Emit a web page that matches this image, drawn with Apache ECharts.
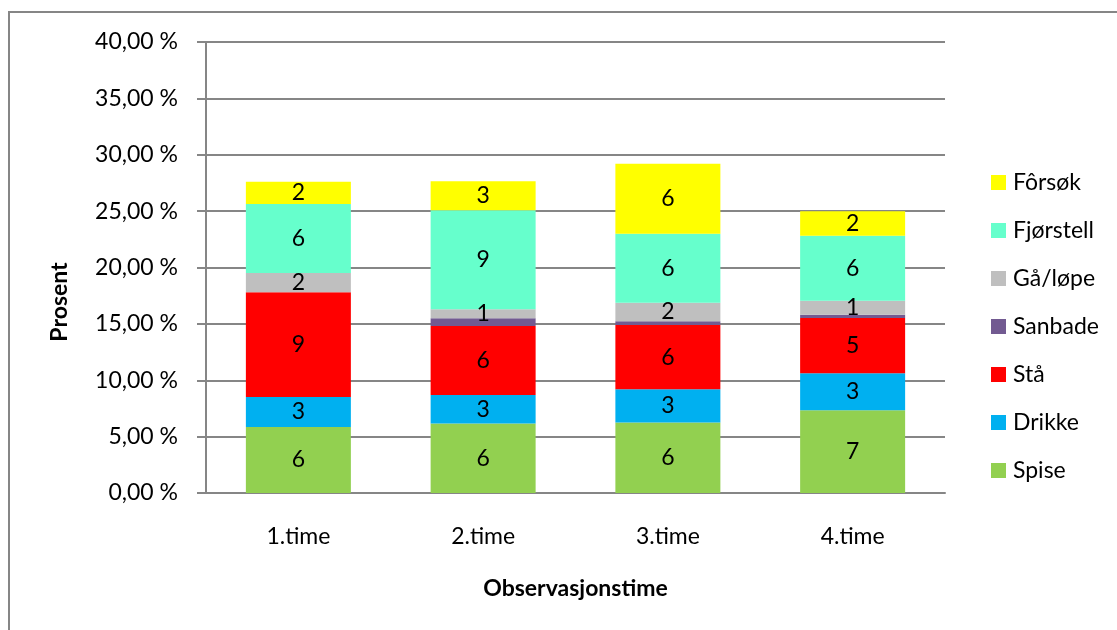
<!DOCTYPE html>
<html>
<head>
<meta charset="utf-8">
<script src="https://cdn.jsdelivr.net/npm/echarts@6/dist/echarts.min.js"></script>
<style>
html,body{margin:0;padding:0;background:#fff;}
#chart{width:1117px;height:630px;}
</style>
</head>
<body>
<div id="chart"></div>
<script>
var categories = ['1.time', '2.time', '3.time', '4.time'];
var spise     = [5.86, 6.16, 6.25, 7.34];
var drikke    = [2.66, 2.54, 2.95, 3.28];
var staa      = [9.29, 6.12, 5.71, 4.91];
var sanbade   = [0.00, 0.68, 0.33, 0.27];
var gaaLoepe  = [1.71, 0.80, 1.63, 1.24];
var fjoerstell= [6.12, 8.78, 6.12, 5.77];
var foersoek  = [1.96, 2.58, 6.21, 2.19];
var yTicks = [0, 5, 10, 15, 20, 25, 30, 35, 40];

var FONT = 'Lato';
var FS = 23;
var seriesDefs = [
  {name: 'Spise', data: spise, color: '#92D050', label: true},
  {name: 'Drikke', data: drikke, color: '#00B0F0', label: true},
  {name: 'Stå', data: staa, color: '#FF0000', label: true},
  {name: 'Sanbade', data: sanbade, color: '#725A91', label: false},
  {name: 'Gå/løpe', data: gaaLoepe, color: '#BFBFBF', label: true},
  {name: 'Fjørstell', data: fjoerstell, color: '#66FFCC', label: true},
  {name: 'Fôrsøk', data: foersoek, color: '#FFFF00', label: true}
];

var chart = echarts.init(document.getElementById('chart'), null, {renderer: 'canvas'});
var option = {
  backgroundColor: '#fff',
  animation: false,
  grid: {left: 206, right: 172, top: 42, bottom: 137, containLabel: false},
  legend: {
    orient: 'vertical',
    left: 986, top: 166,
    itemWidth: 15, itemHeight: 15, itemGap: 25,
    icon: 'rect',
    data: seriesDefs.map(function(s){return s.name;}).reverse(),
    textStyle: {fontFamily: FONT, fontSize: FS, color: '#000', padding: [0,0,0,2]}
  },
  xAxis: {
    type: 'category',
    data: categories,
    name: 'Observasjonstime',
    nameLocation: 'middle',
    nameGap: 84,
    nameTextStyle: {fontFamily: FONT, fontSize: FS, fontWeight: 'bold', color: '#000'},
    axisLine: {show: true, lineStyle: {color: '#868686', width: 2}},
    axisTick: {show: false},
    axisLabel: {fontFamily: FONT, fontSize: FS, color: '#000', margin: 32}
  },
  yAxis: {
    type: 'value',
    min: yTicks[0], max: yTicks[yTicks.length-1], interval: 5,
    axisLine: {show: true, lineStyle: {color: '#868686', width: 2}},
    axisTick: {show: true, length: 9, lineStyle: {color: '#868686', width: 2}},
    splitLine: {show: true, lineStyle: {color: '#868686', width: 2}},
    axisLabel: {
      fontFamily: FONT, fontSize: FS, color: '#000', margin: 28,
      formatter: function(v){ return v.toFixed(2).replace('.', ',') + ' %'; }
    }
  },
  graphic: [
    {type: 'rect', silent: true, z: -1,
     shape: {x: 9, y: 12, width: 1300, height: 800},
     style: {fill: 'none', stroke: '#868686', lineWidth: 2}},
    {type: 'text', silent: true,
     x: 60, y: 302, rotation: Math.PI/2,
     style: {text: 'Prosent', fontFamily: FONT, fontSize: FS, fontWeight: 'bold', fill: '#000',
             align: 'center', verticalAlign: 'middle'}}
  ],
  series: seriesDefs.map(function(s){
    return {
      name: s.name, type: 'bar', stack: 'total',
      data: s.data, barWidth: 105,
      itemStyle: {color: s.color},
      label: {
        show: s.label, position: 'inside', color: '#000',
        fontFamily: FONT, fontSize: FS,
        formatter: function(p){ return String(Math.round(p.value)); }
      },
      labelLayout: {hideOverlap: false}
    };
  })
};
chart.setOption(option);
</script>
</body>
</html>
